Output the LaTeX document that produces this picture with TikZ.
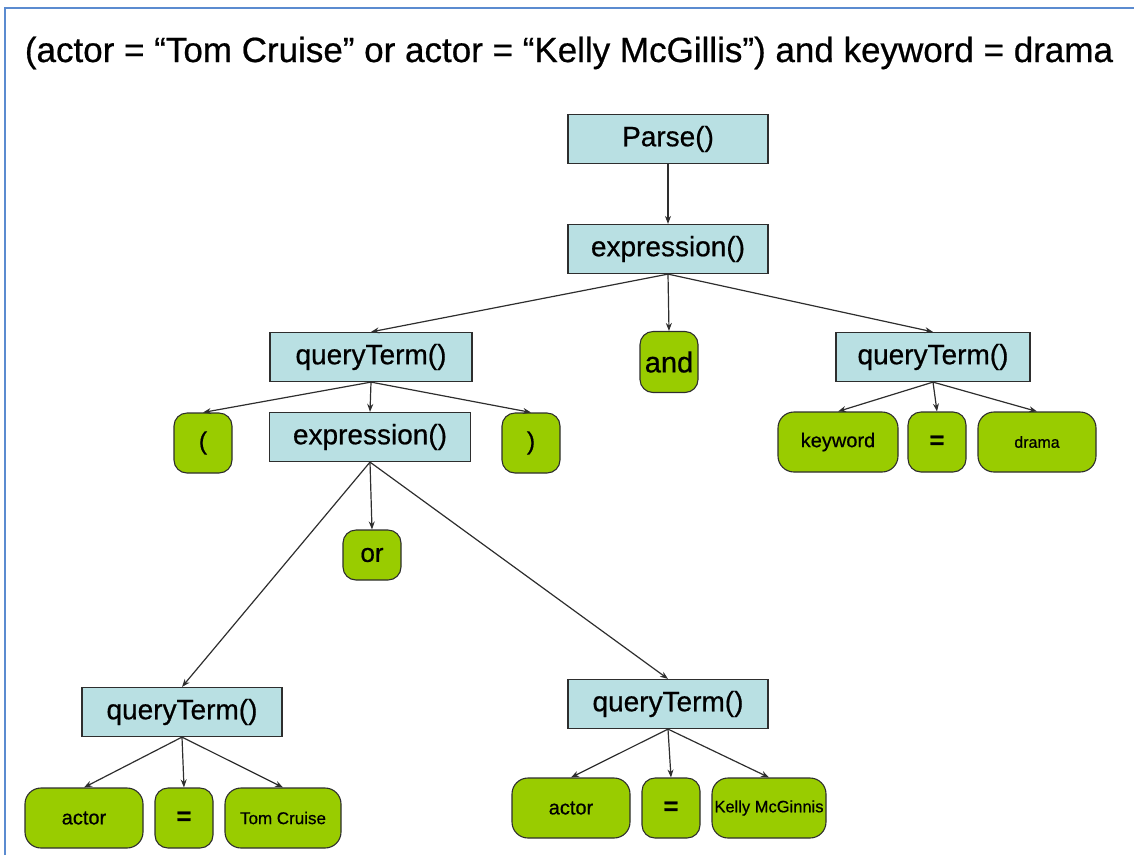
\documentclass[tikz,border=0pt]{standalone}
\usepackage{fontspec}
\setmainfont{Liberation Sans}[FakeBold=0.6]
\usetikzlibrary{arrows.meta}
\definecolor{boxblue}{HTML}{B9E0E3}
\definecolor{leafgreen}{HTML}{99CC00}
\definecolor{edgegray}{HTML}{2E2E2E}
\definecolor{frameblue}{HTML}{5B8BD0}
\tikzset{
  call/.style={draw=edgegray, line width=1.2pt, fill=boxblue, minimum width=200pt,
    minimum height=49pt, inner sep=0pt, font=\fontsize{28}{30}\selectfont},
  leaf/.style={draw=edgegray, line width=1.1pt, fill=leafgreen, rounded corners=16pt,
    minimum height=60pt, inner sep=0pt},
  word/.style={leaf, minimum width=118pt},
  tok/.style={leaf, minimum width=58pt, rounded corners=13pt},
  link/.style={draw=edgegray, line width=1.2pt, -{Stealth[length=8pt,width=6pt]}},
}
\begin{document}
\begin{tikzpicture}[x=1pt, y=-1pt]
\useasboundingbox (0,0) rectangle (1134,855);
% frame lines along the top and left edges
\draw[frameblue, line width=1.5pt] (5,855) -- (5,8) -- (1134,8);

\node[anchor=base, font=\fontsize{35}{38}\selectfont] (title) at (569,62)
  {(actor = “Tom Cruise” or actor = “Kelly McGillis”) and keyword = drama};

% parse tree
\node[call] (parse) at (668,139) {Parse()};
\node[call] (expr) at (668,249) {expression()};
\node[call, minimum width=202pt] (qtl) at (371,357) {queryTerm()};
\node[tok, minimum height=61pt, font=\fontsize{29}{31}\selectfont] (and) at (669,362) {and};
\node[call, minimum width=194pt] (qtr) at (933,357) {queryTerm()};

\node[tok, font=\fontsize{25}{27}\selectfont] (lpar) at (203,443) {(};
\node[call, minimum width=201pt] (exprin) at (370,437) {expression()};
\node[tok, font=\fontsize{25}{27}\selectfont] (rpar) at (531,443) {)};

\node[word, minimum width=120pt, font=\fontsize{20}{22}\selectfont] (kw) at (838,442) {keyword};
\node[tok, font=\bfseries\fontsize{25}{27}\selectfont] (eqr) at (937,442) {=};
\node[word, font=\fontsize{16}{18}\selectfont] (drama) at (1037,442) {drama};

\node[tok, minimum height=50pt, font=\fontsize{26}{28}\selectfont] (or) at (372,555) {or};

\node[call] (qta) at (182,712) {queryTerm()};
\node[call] (qtb) at (668,704) {queryTerm()};

\node[word, font=\fontsize{20}{22}\selectfont] (actora) at (84,818) {actor};
\node[tok, font=\bfseries\fontsize{25}{27}\selectfont] (eqa) at (184,818) {=};
\node[word, minimum width=116pt, font=\fontsize{17}{19}\selectfont] (tom) at (283,818) {Tom Cruise};

\node[word, font=\fontsize{20}{22}\selectfont] (actorb) at (571,808) {actor};
\node[tok, font=\bfseries\fontsize{25}{27}\selectfont] (eqb) at (671,808) {=};
\node[word, minimum width=114pt, font=\fontsize{16.5}{18}\selectfont] (kelly) at (769,808) {Kelly McGinnis};

% connectors
\draw[link] (parse.south) -- (expr.north);
\draw[link] (expr.south) -- (qtl.north);
\draw[link] (expr.south) -- (and.north);
\draw[link] (expr.south) -- (qtr.north);

\draw[link] (qtl.south) -- (lpar.north);
\draw[link] (qtl.south) -- (exprin.north);
\draw[link] (qtl.south) -- (rpar.north);

\draw[link] (qtr.south) -- (kw.north);
\draw[link] (qtr.south) -- (eqr.north);
\draw[link] (qtr.south) -- (drama.north);

\draw[link] (exprin.south) -- (or.north);
\draw[link] (exprin.south) -- (qta.north);
\draw[link] (exprin.south) -- (qtb.north);

\draw[link] (qta.south) -- (actora.north);
\draw[link] (qta.south) -- (eqa.north);
\draw[link] (qta.south) -- (tom.north);

\draw[link] (qtb.south) -- (actorb.north);
\draw[link] (qtb.south) -- (eqb.north);
\draw[link] (qtb.south) -- (kelly.north);
\end{tikzpicture}
\end{document}
